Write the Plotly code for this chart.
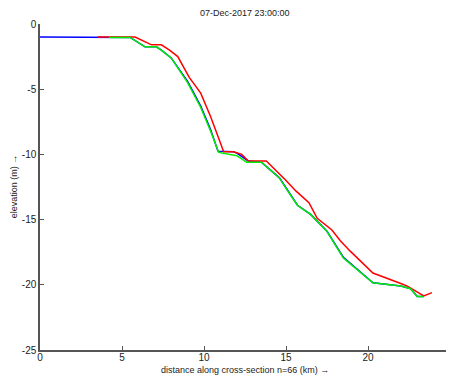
import plotly.graph_objects as go

title_text = "07-Dec-2017 23:00:00"
x_label = "distance along cross-section n=66 (km) \u2192"
y_label = "elevation (m) \u2192"

blue_x = [0.0, 3.5, 5.5, 6.4, 7.1, 7.4, 8.0, 9.0, 9.8, 10.4, 10.85, 11.8, 12.0, 12.7, 13.5, 14.6, 15.1, 15.7, 16.5, 17.5, 18.5, 19.3, 20.3, 22.0, 22.6, 23.0, 23.4]
blue_y = [-1.0, -1.0, -1.03, -1.75, -1.75, -2.0, -2.6, -4.4, -6.3, -8.1, -9.75, -9.8, -9.9, -10.5, -10.6, -11.8, -12.8, -13.9, -14.6, -15.9, -17.9, -18.8, -19.85, -20.1, -20.3, -20.9, -20.9]

red_x = [3.5, 5.8, 6.8, 7.4, 7.9, 8.4, 9.1, 9.8, 10.4, 10.9, 11.2, 11.8, 12.3, 12.7, 13.8, 15.0, 15.6, 16.4, 16.9, 17.8, 18.3, 18.9, 20.3, 22.0, 22.4, 23.4, 23.9]
red_y = [-1.0, -1.0, -1.6, -1.6, -2.0, -2.5, -4.1, -5.3, -7.1, -8.7, -9.8, -9.8, -10.0, -10.5, -10.5, -12.0, -12.8, -13.7, -14.9, -15.8, -16.6, -17.4, -19.1, -19.9, -20.1, -20.85, -20.6]

green_x = [4.2, 5.5, 6.4, 7.1, 7.4, 8.0, 9.0, 9.8, 10.4, 10.9, 12.0, 12.6, 13.5, 14.6, 15.1, 15.7, 16.5, 17.5, 18.5, 19.3, 20.3, 22.0, 22.6, 23.0, 23.4]
green_y = [-1.03, -1.03, -1.75, -1.75, -2.0, -2.6, -4.5, -6.4, -8.2, -9.85, -10.1, -10.6, -10.6, -11.8, -12.8, -13.9, -14.6, -15.9, -17.95, -18.8, -19.85, -20.1, -20.3, -20.9, -20.9]

x_ticks = [0, 5, 10, 15, 20, 25]
y_ticks = [0, -5, -10, -15, -20, -25]

fig = go.Figure()
fig.add_trace(go.Scatter(x=blue_x, y=blue_y, mode="lines", line=dict(color="#0000ff", width=1.5), showlegend=False))
fig.add_trace(go.Scatter(x=red_x, y=red_y, mode="lines", line=dict(color="#ff0000", width=1.5), showlegend=False))
fig.add_trace(go.Scatter(x=green_x, y=green_y, mode="lines", line=dict(color="#00ee00", width=1.5), showlegend=False))

font_family = "Liberation Sans, Arial, sans-serif"
fig.update_layout(
    width=446, height=368,
    margin=dict(l=32, r=4, t=16, b=26, autoexpand=False),
    paper_bgcolor="white", plot_bgcolor="white",
    font=dict(family=font_family, size=10, color="#222"),
    annotations=[
        dict(text=title_text, xref="paper", yref="paper", x=0.5, y=1.034, xanchor="center", yanchor="middle",
             showarrow=False, font=dict(size=9, color="#222")),
        dict(text=x_label, xref="paper", yref="paper", x=0.5, y=-0.062, xanchor="center", yanchor="middle",
             showarrow=False, font=dict(size=9, color="#222")),
        dict(text=y_label, xref="paper", yref="paper", x=-0.063, y=0.503, xanchor="center", yanchor="middle",
             textangle=-90, showarrow=False, font=dict(size=9, color="#222")),
    ],
)
fig.update_xaxes(
    range=[0, 25], tickvals=x_ticks, ticktext=[str(v) for v in x_ticks],
    showgrid=False, zeroline=False, showline=True, linecolor="#555", linewidth=1.5,
    ticks="inside", ticklen=4, tickcolor="#555", ticklabelstandoff=-3,
    automargin=False,
)
fig.update_yaxes(
    range=[-25, 0], tickvals=y_ticks, ticktext=[str(v) for v in y_ticks],
    showgrid=False, zeroline=False, showline=True, linecolor="#555", linewidth=1.5,
    ticks="inside", ticklen=4, tickcolor="#555",
    automargin=False,
)
fig.write_html("out.html")
